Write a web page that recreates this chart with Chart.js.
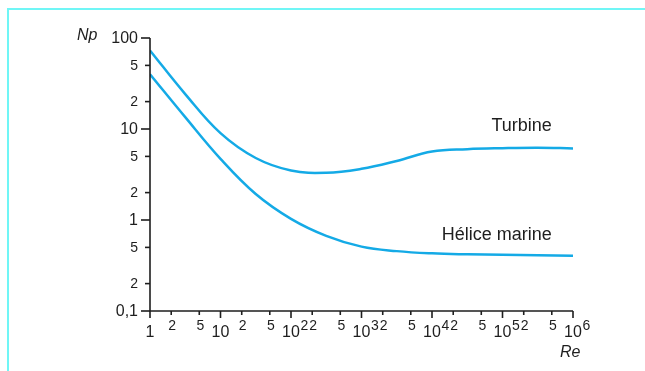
<!DOCTYPE html>
<html>
<head>
<meta charset="utf-8">
<script src="https://cdn.jsdelivr.net/npm/chart.js@4"></script>
<style>
  body { margin: 0; background: #fff; }
  #wrap { position: relative; width: 645px; height: 371px; }
  #frame { position: absolute; left: 7px; top: 8px; right: 0; bottom: 0;
           border-top: 2px solid rgb(112, 246, 246); border-left: 2px solid rgb(112, 246, 246); }
  canvas { position: absolute; left: 0; top: 0; }
</style>
</head>
<body>
<div id="wrap">
  <div id="frame"></div>
  <canvas id="np_canvas" width="645" height="371"></canvas>
</div>
<script>
// Np every half decade of Re
const reValues = [1, 3.16, 10, 31.6, 100, 316, 1000, 3160, 1e4, 3.16e4, 1e5, 3.16e5, 1e6];
const turbineNp = [73, 24.2, 9.0, 4.8, 3.5, 3.3, 3.65, 4.45, 5.65, 6.0, 6.15, 6.22, 6.12];
const heliceNp = [40, 13.5, 4.7, 1.93, 1.03, 0.67, 0.51, 0.455, 0.43, 0.42, 0.415, 0.41, 0.405];

// tick labels (^ = exponent)
const xTickValues = [1, 2, 5, 10, 20, 50, 100, 200, 500, 1e3, 2e3, 5e3, 1e4, 2e4, 5e4, 1e5, 2e5, 5e5, 1e6];
const xTickLabels = ["1", "2", "5", "10", "2", "5", "10^2", "2", "5", "10^3", "2", "5", "10^4", "2", "5", "10^5", "2", "5", "10^6"];
const yTickValues = [100, 50, 20, 10, 5, 2, 1, 0.5, 0.2, 0.1];
const yTickLabels = ["100", "5", "2", "10", "5", "2", "1", "5", "2", "0,1"];

const curveLabels = [
  { text: "Turbine", re: 5e5, np: 10.8 },
  { text: "Hélice marine", re: 5e5, np: 0.68 }
];

const ink = "#1e1e1e";
const curveColor = "#14aae6";
const font = "Liberation Sans, Arial, sans-serif";

function isMajor(v){
  const l = Math.log10(v);
  return Math.abs(l - Math.round(l)) < 1e-9;
}

const axesPlugin = {
  id: "axes_plugin",
  afterDraw(chart){
    const ctx = chart.ctx;
    const xs = chart.scales.x;
    const ys = chart.scales.y;
    const x0 = xs.getPixelForValue(1);
    const x1 = xs.getPixelForValue(1e6);
    const y0 = ys.getPixelForValue(0.1);
    const y1 = ys.getPixelForValue(100);

    ctx.save();
    ctx.strokeStyle = ink;
    ctx.fillStyle = ink;
    ctx.lineWidth = 1.6;

    // axis lines
    ctx.beginPath();
    ctx.moveTo(x0, y1);
    ctx.lineTo(x0, y0);
    ctx.lineTo(x1, y0);
    ctx.stroke();

    // y ticks + labels
    ctx.textAlign = "right";
    ctx.textBaseline = "middle";
    yTickValues.forEach((v, i) => {
      const y = ys.getPixelForValue(v);
      const major = isMajor(v);
      ctx.beginPath();
      ctx.moveTo(x0 - (major ? 9 : 5), y);
      ctx.lineTo(x0, y);
      ctx.stroke();
      ctx.font = (major ? "16px " : "14px ") + font;
      ctx.fillText(yTickLabels[i], 138, y + 1);
    });

    // x ticks + labels
    ctx.textBaseline = "alphabetic";
    xTickValues.forEach((v, i) => {
      const x = xs.getPixelForValue(v);
      const major = isMajor(v);
      ctx.beginPath();
      ctx.moveTo(x, y0);
      ctx.lineTo(x, y0 + (major ? 7 : 4));
      ctx.stroke();
      const lab = xTickLabels[i];
      if(lab.indexOf("^") >= 0){
        const parts = lab.split("^");
        ctx.font = "16px " + font;
        ctx.textAlign = "center";
        ctx.fillText(parts[0], x, 337);
        const w = ctx.measureText(parts[0]).width;
        ctx.font = "14px " + font;
        ctx.textAlign = "left";
        ctx.fillText(parts[1], x + w / 2 + 0.5, 330);
      } else if(major){
        ctx.font = "16px " + font;
        ctx.textAlign = "center";
        ctx.fillText(lab, x, 337);
      } else {
        ctx.font = "14px " + font;
        ctx.textAlign = "center";
        ctx.fillText(lab, x + 1, 330);
      }
    });

    // axis titles
    ctx.font = "italic 16px " + font;
    ctx.textAlign = "left";
    ctx.fillText("Np", 77, 40);
    ctx.fillText("Re", 560, 357);

    // curve names
    ctx.font = "18px " + font;
    ctx.textAlign = "right";
    ctx.textBaseline = "middle";
    curveLabels.forEach(c => {
      ctx.fillText(c.text, xs.getPixelForValue(c.re), ys.getPixelForValue(c.np));
    });

    ctx.restore();
  }
};

function toPoints(xa, ya){
  return xa.map((x, i) => ({ x: x, y: ya[i] }));
}

const np_chart = new Chart(document.getElementById("np_canvas"), {
  type: "line",
  data: {
    datasets: [
      { label: "Turbine", data: toPoints(reValues, turbineNp) },
      { label: "Hélice marine", data: toPoints(reValues, heliceNp) }
    ].map(d => Object.assign(d, {
      borderColor: curveColor,
      borderWidth: 2.5,
      pointRadius: 0,
      fill: false,
      tension: 0.4
    }))
  },
  options: {
    responsive: false,
    animation: false,
    layout: { padding: { left: 150, right: 72, top: 38, bottom: 60 } },
    plugins: { legend: { display: false }, tooltip: { enabled: false } },
    scales: {
      x: { type: "logarithmic", min: 1, max: 1e6, display: false },
      y: { type: "logarithmic", min: 0.1, max: 100, display: false }
    }
  },
  plugins: [axesPlugin]
});
</script>
</body>
</html>
